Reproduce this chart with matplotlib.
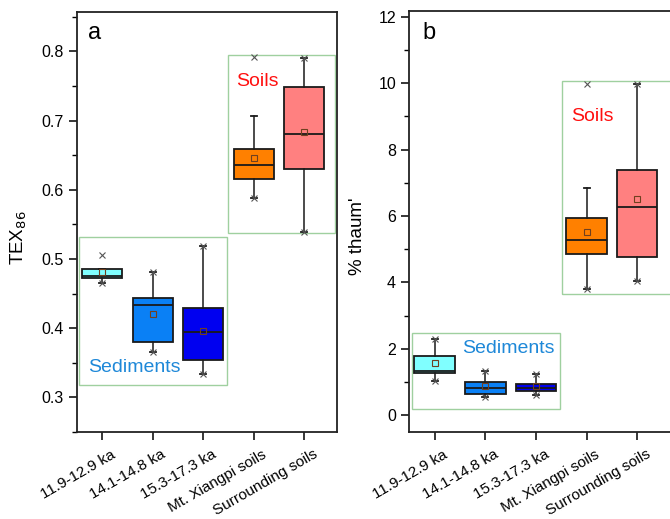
import matplotlib
matplotlib.use("Agg")
import matplotlib.pyplot as plt
from matplotlib.patches import Rectangle
from matplotlib.ticker import MultipleLocator
import matplotlib.transforms as mtransforms

plt.rcParams['font.family'] = ['Liberation Sans', 'DejaVu Sans']

categories = ["11.9-12.9 ka", "14.1-14.8 ka", "15.3-17.3 ka", "Mt. Xiangpi soils", "Surrounding soils"]
colors = ["#80FFFF", "#0A80F5", "#0000F0", "#FF8000", "#FF8080"]

# Panel a: TEX86
tex_q1 = [0.472, 0.380, 0.354, 0.616, 0.630]
tex_med = [0.475, 0.434, 0.395, 0.636, 0.680]
tex_q3 = [0.485, 0.443, 0.429, 0.659, 0.749]
tex_mean = [0.481, 0.421, 0.396, 0.646, 0.684]
tex_wlo = [0.466, 0.366, 0.334, 0.588, 0.539]
tex_whi = [0.485, 0.481, 0.519, 0.707, 0.790]
tex_min = [0.466, 0.366, 0.334, 0.588, 0.539]
tex_max = [0.506, 0.481, 0.519, 0.792, 0.790]

# Panel b: % thaum'
th_q1 = [1.275, 0.644, 0.743, 4.863, 4.773]
th_med = [1.335, 0.824, 0.824, 5.269, 6.270]
th_q3 = [1.774, 0.993, 0.953, 5.930, 7.383]
th_mean = [1.564, 0.884, 0.880, 5.510, 6.510]
th_wlo = [1.044, 0.541, 0.622, 3.800, 4.030]
th_whi = [2.307, 1.335, 1.254, 6.850, 9.980]
th_min = [1.044, 0.541, 0.622, 3.800, 4.030]
th_max = [2.307, 1.335, 1.254, 9.980, 9.980]

fig = plt.figure(figsize=(6.7, 5.19), dpi=100)
H = 519.0
W = 670.0
axA = fig.add_axes([77 / W, (H - 432) / H, 260 / W, 420 / H])
axB = fig.add_axes([409.3 / W, (H - 432) / H, 268 / W, 421 / H])


def draw(ax, q1, med, q3, mean, wlo, whi, mn, mx):
    stats = []
    for i in range(len(categories)):
        stats.append(dict(med=med[i], q1=q1[i], q3=q3[i], mean=mean[i],
                          whislo=wlo[i], whishi=whi[i], fliers=[mn[i], mx[i]],
                          label=categories[i]))
    bp = ax.bxp(stats, positions=range(1, 6), widths=0.8, patch_artist=True,
                showmeans=True, capwidths=0.12,
                boxprops=dict(linewidth=1.3, edgecolor='#1a1a1a'),
                medianprops=dict(color='#1a1a1a', linewidth=1.3),
                whiskerprops=dict(color='#1a1a1a', linewidth=1.1),
                capprops=dict(color='#1a1a1a', linewidth=1.3),
                meanprops=dict(marker='s', markersize=4, markerfacecolor='none',
                               markeredgecolor='#704020', markeredgewidth=0.8),
                flierprops=dict(marker='x', markersize=4, markeredgecolor='#555555',
                                markeredgewidth=0.8))
    for patch, c in zip(bp['boxes'], colors):
        patch.set_facecolor(c)
    for s in ax.spines.values():
        s.set_linewidth(1.3)
        s.set_color('#222222')
    ax.tick_params(axis='y', which='major', direction='out', length=6, width=1.1, labelsize=11.5)
    ax.tick_params(axis='y', which='minor', direction='out', length=3.5, width=1.0)
    ax.tick_params(axis='x', which='major', direction='out', length=6, width=1.1, labelsize=11)
    ax.set_xticks(range(1, 6))
    ax.set_xticklabels(categories, rotation=30, ha='right', va='top', rotation_mode='anchor')
    offset = mtransforms.ScaledTranslation(6 / 72, -1.5 / 72, fig.dpi_scale_trans)
    for lab in ax.get_xticklabels():
        lab.set_transform(lab.get_transform() + offset)


draw(axA, tex_q1, tex_med, tex_q3, tex_mean, tex_wlo, tex_whi, tex_min, tex_max)
axA.set_xlim(0.5, 5.65)
axA.set_ylim(0.25, 0.857)
axA.yaxis.set_major_locator(MultipleLocator(0.1))
axA.yaxis.set_minor_locator(MultipleLocator(0.05))
axA.set_ylabel("TEX$_{86}$", fontsize=13.5)
axA.yaxis.set_label_coords(-0.183, 0.462)
axA.add_patch(Rectangle((0.546, 0.318), 3.466 - 0.546, 0.532 - 0.318, fill=False,
                        edgecolor='#9FD09F', linewidth=1.0, zorder=0.5))
axA.add_patch(Rectangle((3.49, 0.537), 5.62 - 3.49, 0.795 - 0.537, fill=False,
                        edgecolor='#9FD09F', linewidth=1.0, zorder=0.5))
axA.text(3.65, 0.757, "Soils", color='#FF1010', fontsize=14, va='center', ha='left')
axA.text(0.72, 0.343, "Sediments", color='#1E88D8', fontsize=14, va='center', ha='left')
axA.text(0.72, 0.826, "a", fontsize=17, va='center', ha='left')

draw(axB, th_q1, th_med, th_q3, th_mean, th_wlo, th_whi, th_min, th_max)
axB.set_xlim(0.5, 0.5 + 268 / 50.65)
axB.set_ylim(-0.5, 12.17)
axB.yaxis.set_major_locator(MultipleLocator(2))
axB.yaxis.set_minor_locator(MultipleLocator(1))
axB.set_ylabel("% thaum'", fontsize=13.5)
axB.yaxis.set_label_coords(-0.16, 0.466)
axB.add_patch(Rectangle((0.558, 0.19), 3.474 - 0.558, 2.478 - 0.19, fill=False,
                        edgecolor='#9FD09F', linewidth=1.0, zorder=0.5))
axB.add_patch(Rectangle((3.51, 3.65), 5.75 - 3.51, 10.07 - 3.65, fill=False,
                        edgecolor='#9FD09F', linewidth=1.0, zorder=0.5))
axB.text(3.69, 8.99, "Soils", color='#FF1010', fontsize=14, va='center', ha='left')
axB.text(1.55, 2.0, "Sediments", color='#1E88D8', fontsize=14, va='center', ha='left')
axB.text(0.76, 11.5, "b", fontsize=17, va='center', ha='left')

fig.savefig("out.png", dpi=100)
